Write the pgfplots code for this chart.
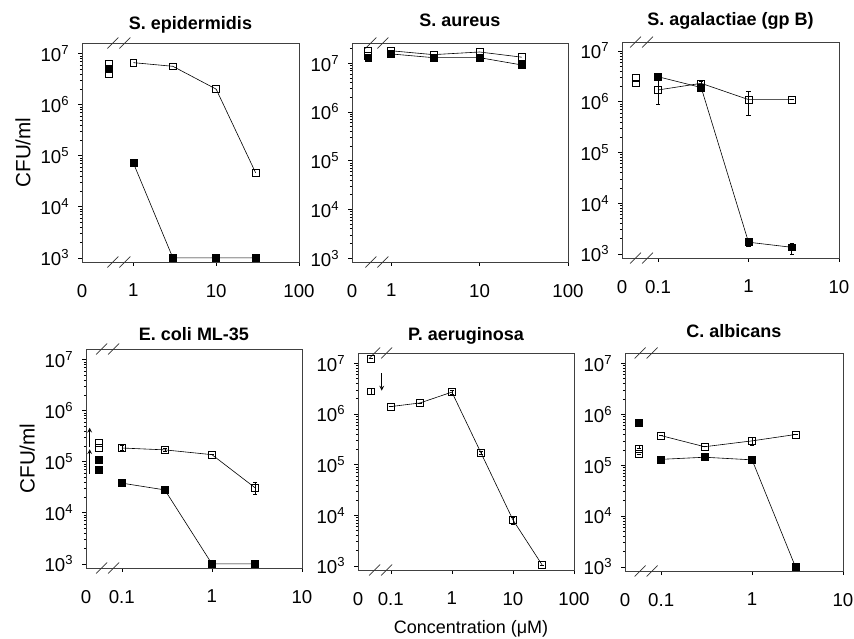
\documentclass[border=0pt]{standalone}
\usepackage{fontspec}
\setmainfont{Liberation Sans}
\usepackage{pgfplots}
\pgfplotsset{compat=1.18}

% break marks on the bottom and top frame lines
\newcommand\brk[1]{%
  \draw[black!80, line width=0.5pt]
    ([shift={(-8.6pt,-4.1pt)}]rel axis cs:#1,0) -- ++(8.2pt,8.2pt)
    ([shift={(0.4pt,-4.1pt)}]rel axis cs:#1,0) -- ++(8.2pt,8.2pt)
    ([shift={(-8.6pt,-4.1pt)}]rel axis cs:#1,1) -- ++(8.2pt,8.2pt)
    ([shift={(0.4pt,-4.1pt)}]rel axis cs:#1,1) -- ++(8.2pt,8.2pt);}

\pgfplotsset{
  cfupanel/.style={
    scale only axis, anchor=south west, clip=false,
    ymin=830, ymax=1.6e7,
    axis line style={black!75, line width=0.5pt},
    tick align=outside, xtick pos=bottom, ytick pos=left,
    tick style={black, line width=0.4pt},
    major tick length=3pt, minor tick length=1.6pt,
    ytick={1e3,1e4,1e5,1e6,1e7},
    yticklabels={10\textsuperscript{3},10\textsuperscript{4},10\textsuperscript{5},10\textsuperscript{6},10\textsuperscript{7}},
    minor ytick={2e3,3e3,4e3,5e3,6e3,7e3,8e3,9e3,2e4,3e4,4e4,5e4,6e4,7e4,8e4,9e4,
                 2e5,3e5,4e5,5e5,6e5,7e5,8e5,9e5,2e6,3e6,4e6,5e6,6e6,7e6,8e6,9e6,2e7},
    xminorticks=false,
    tick label style={font=\fontsize{14}{16}\selectfont},
    yticklabel style={xshift=-3pt},
    xticklabel style={yshift=-10pt},
    extra x tick labels={0},
    extra x tick style={major tick style={draw=none}},
    title style={font=\bfseries\fontsize{13.5}{15}\selectfont, at={(0.5,1)}, anchor=base},
    ylabel style={font=\fontsize{15.5}{17}\selectfont, at={(rel axis cs:-0.272,0.5)}, anchor=center},
    xlabel style={font=\fontsize{13.5}{15}\selectfont, at={(rel axis cs:0.523,-0.27)}, anchor=center},
  },
  opensq/.style={black, line width=0.45pt, mark=square, mark size=2.6pt,
    mark options={fill=white, solid, line width=0.5pt}},
  fillsq/.style={black, line width=0.45pt, mark=square*, mark size=2.6pt,
    mark options={fill=black, solid}},
  ebars/.style={error bars/.cd, y dir=both, y explicit,
    error bar style={black, line width=0.4pt},
    error mark options={rotate=90, mark size=1.6pt, black}},
}

\begin{document}
\begin{tikzpicture}
\path[use as bounding box] (0,0) rectangle (640.5pt,-479.25pt);

% ---------- S. epidermidis
\begin{loglogaxis}[cfupanel, at={(61.5pt,-196.5pt)}, width=162.75pt, height=164.25pt,
  title style={yshift=4.25pt},
  xmin=0.24, xmax=100, xtick={1,10,100}, xticklabels={1,10,100},
  extra x ticks={0.24}, title={S. epidermidis}, ylabel={CFU/ml}]
\addplot[fillsq] coordinates {(1,7.2e4) (3,1e3) (10,1e3) (30,1e3)};
\addplot[opensq] coordinates {(1,6.6e6) (3,5.6e6) (10,2.0e6) (30,4.6e4)};
\addplot[opensq, only marks] coordinates {(0.5,6.3e6) (0.5,3.9e6)};
\addplot[fillsq, only marks] coordinates {(0.5,4.9e6)};
\brk{0.17}
\end{loglogaxis}

% ---------- S. aureus
\begin{loglogaxis}[cfupanel, at={(264pt,-196.5pt)}, width=162pt, height=164.25pt,
  title style={yshift=6.5pt}, ymax=2.6e7,
  xmin=0.36, xmax=100, xtick={1,10,100}, xticklabels={1,10,100},
  extra x ticks={0.36}, title={S. aureus}]
\addplot[fillsq] coordinates {(1,1.55e7) (3,1.3e7) (10,1.3e7) (30,9.2e6)};
\addplot[opensq] coordinates {(1,1.8e7) (3,1.5e7) (10,1.7e7) (30,1.33e7)};
\addplot[fillsq, only marks] coordinates {(0.55,1.3e7)};
\addplot[opensq, only marks] coordinates {(0.55,1.8e7) (0.55,1.4e7)};
\brk{0.115}
\end{loglogaxis}

% ---------- S. agalactiae
\begin{loglogaxis}[cfupanel, at={(466.5pt,-193.5pt)}, width=162.75pt, height=162pt,
  title style={yshift=6.5pt}, ymax=1.5e7,
  xmin=0.04, xmax=10, xtick={0.1,1,10}, xticklabels={0.1,1,10},
  extra x ticks={0.04}, title={S. agalactiae (gp B)}]
\addplot[fillsq, ebars] coordinates {
  (0.1,3.1e6) += (0,4e5) -= (0,4e5)
  (0.3,1.9e6) += (0,2e5) -= (0,2e5)
  (1,1.7e3) += (0,3e2) -= (0,3e2)
  (3,1.35e3) += (0,3e2) -= (0,3.5e2)};
\addplot[opensq, ebars] coordinates {
  (0.1,1.7e6) += (0,1.3e6) -= (0,8e5)
  (0.3,2.3e6) += (0,2e5) -= (0,2e5)
  (1,1.1e6) += (0,5e5) -= (0,5.5e5)
  (3,1.1e6) += (0,0) -= (0,0)};
\addplot[opensq, only marks] coordinates {(0.057,2.9e6) (0.057,2.3e6)};
\brk{0.09}
\end{loglogaxis}

% ---------- E. coli ML-35
\begin{loglogaxis}[cfupanel, at={(64.5pt,-426pt)}, width=162pt, height=164.25pt,
  title style={yshift=0.5pt},
  xmin=0.04, xmax=10, xtick={0.1,1,10}, xticklabels={0.1,1,10},
  extra x ticks={0.04}, title={E. coli ML-35}, ylabel={CFU/ml}]
\addplot[fillsq, ebars] coordinates {
  (0.1,3.8e4) += (0,2e3) -= (0,2e3)
  (0.3,2.8e4) += (0,4e3) -= (0,4e3)
  (1,1e3) += (0,0) -= (0,0)
  (3,1e3) += (0,0) -= (0,0)};
\addplot[opensq, ebars] coordinates {
  (0.1,1.85e5) += (0,2e4) -= (0,2e4)
  (0.3,1.7e5) += (0,1e4) -= (0,1e4)
  (1,1.37e5) += (0,0) -= (0,0)
  (3,3.1e4) += (0,8e3) -= (0,8e3)};
\addplot[opensq, only marks] coordinates {(0.055,2.3e5) (0.055,1.9e5)};
\addplot[fillsq, only marks] coordinates {(0.055,1.1e5) (0.055,6.9e4)};
\draw[->, >=stealth, line width=0.6pt] (axis cs:0.044,1.9e5) -- (axis cs:0.044,4.6e5);
\draw[->, >=stealth, line width=0.6pt] (axis cs:0.044,5.8e4) -- (axis cs:0.044,1.75e5);
\brk{0.1}
\end{loglogaxis}

% ---------- P. aeruginosa
\begin{loglogaxis}[cfupanel, at={(268.5pt,-427.5pt)}, width=162pt, height=162.75pt,
  title style={yshift=3.5pt},
  xmin=0.029, xmax=100, xtick={0.1,1,10,100}, xticklabels={0.1,1,10,100},
  extra x ticks={0.029}, title={P. aeruginosa}, xlabel={Concentration (μM)}]
\addplot[opensq, ebars] coordinates {
  (0.1,1.4e6) += (0,0) -= (0,0)
  (0.3,1.65e6) += (0,0) -= (0,0)
  (1,2.7e6) += (0,2e5) -= (0,2e5)
  (3,1.7e5) += (0,1e4) -= (0,1e4)
  (10,8.1e3) += (0,1.2e3) -= (0,1.5e3)
  (30,1.05e3) += (0,0) -= (0,0)};
\addplot[opensq, only marks, ebars] coordinates {
  (0.047,1.25e7) += (0,0) -= (0,0)
  (0.047,2.8e6) += (0,4e5) -= (0,4e5)};
\draw[->, >=stealth, line width=0.6pt] (axis cs:0.071,6.4e6) -- (axis cs:0.071,2.9e6);
\brk{0.105}
\end{loglogaxis}

% ---------- C. albicans
\begin{loglogaxis}[cfupanel, at={(468.75pt,-428.25pt)}, width=163.5pt, height=163.5pt,
  title style={yshift=5.75pt},
  xmin=0.04, xmax=10, xtick={0.1,1,10}, xticklabels={0.1,1,10},
  extra x ticks={0.04}, title={C. albicans}]
\addplot[fillsq] coordinates {(0.1,1.3e5) (0.3,1.43e5) (1,1.27e5) (3,1e3)};
\addplot[opensq, ebars] coordinates {
  (0.1,3.8e5) += (0,0) -= (0,0)
  (0.3,2.3e5) += (0,0) -= (0,0)
  (1,3e5) += (0,5e4) -= (0,5e4)
  (3,4e5) += (0,0) -= (0,0)};
\addplot[fillsq, only marks, ebars] coordinates {
  (0.057,6.9e5) += (0,8e4) -= (0,8e4)};
\addplot[opensq, only marks, ebars] coordinates {
  (0.057,2.1e5) += (0,4e4) -= (0,0)
  (0.057,1.66e5) += (0,0) -= (0,0)};
\brk{0.097}
\end{loglogaxis}
\end{tikzpicture}
\end{document}
